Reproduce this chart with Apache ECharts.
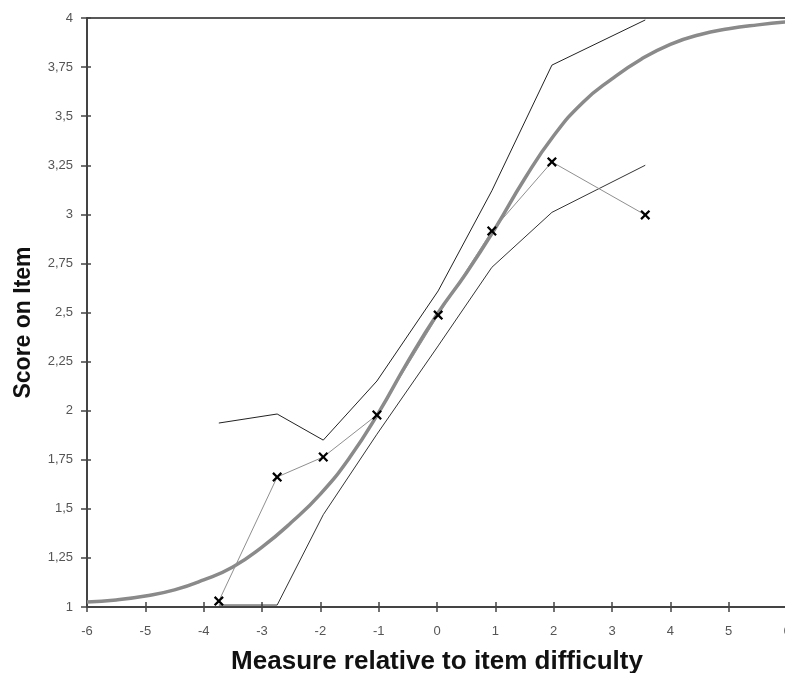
<!DOCTYPE html>
<html>
<head>
<meta charset="utf-8">
<script src="https://cdn.jsdelivr.net/npm/echarts@6/dist/echarts.min.js"></script>
<style>
html,body{margin:0;padding:0;background:#fff;overflow:hidden;}
#c{width:785px;height:673px;}
</style>
</head>
<body>
<div id="c"></div>
<script>
// Model (expected score) curve
const curveX = [-6,-5.5,-5,-4.5,-4,-3.5,-3,-2.5,-2,-1.5,-1,-0.5,0,0.5,1,1.5,2,2.5,3,3.5,4,4.5,5,5.5,6];
const curveY = [1.025,1.036,1.056,1.087,1.138,1.204,1.305,1.43,1.575,1.76,1.99,2.25,2.49,2.70,2.93,3.18,3.40,3.57,3.69,3.79,3.866,3.915,3.945,3.965,3.98];
// Observed mean scores at measure groups
const obsX = [-3.74,-2.74,-1.95,-1.03,0.02,0.94,1.97,3.57];
const obsY = [1.03,1.662,1.764,1.978,2.487,2.915,3.267,2.997];
// Confidence band
const upperY = [1.937,1.983,1.85,2.151,2.61,3.12,3.76,3.99];
const lowerY = [1.01,1.01,1.47,1.88,2.33,2.73,3.01,3.25];
const xTicks = {min:-6,max:6,interval:1};
const yTicks = {min:1,max:4,interval:0.25};

const pairs = (xs, ys) => xs.map((x,i)=>[x, ys[i]]);
const cross = 'path://M0,1.6 L1.6,0 L5,3.4 L8.4,0 L10,1.6 L6.6,5 L10,8.4 L8.4,10 L5,6.6 L1.6,10 L0,8.4 L3.4,5 Z';
const fmt = v => String(v).replace('.', ',');
const labelFont = {fontFamily:'Liberation Sans, Arial, sans-serif', fontSize:13, color:'#555'};

const chart = echarts.init(document.getElementById('c'), null, {renderer:'canvas'});
chart.setOption({
  animation:false,
  backgroundColor:'#fff',
  grid:{left:87, top:18, right:-2, bottom:66, containLabel:false, outerBoundsMode:'none'},
  xAxis:[
    {type:'value', position:'bottom', min:xTicks.min, max:xTicks.max, interval:xTicks.interval,
     axisLine:{show:true, onZero:false, lineStyle:{color:'#444', width:2}},
     axisTick:{show:true, length:5, lineStyle:{color:'#444', width:1.5}},
     axisLabel:Object.assign({margin:18, formatter:fmt}, labelFont),
     splitLine:{show:false},
     name:'Measure relative to item difficulty', nameLocation:'middle', nameGap:42,
     nameTextStyle:{fontFamily:'Liberation Sans, Arial, sans-serif', fontSize:26, fontWeight:'bold', color:'#111'}},
    {type:'value', position:'bottom', min:xTicks.min, max:xTicks.max, interval:xTicks.interval,
     axisLine:{show:false, onZero:false}, axisTick:{show:true, inside:true, length:5, lineStyle:{color:'#444', width:1.5}},
     axisLabel:{show:false}, splitLine:{show:false}},
    {type:'value', position:'top', min:xTicks.min, max:xTicks.max,
     axisLine:{show:true, onZero:false, lineStyle:{color:'#222', width:1.5}}, axisTick:{show:false},
     axisLabel:{show:false}, splitLine:{show:false}}
  ],
  yAxis:[
    {type:'value', position:'left', min:yTicks.min, max:yTicks.max, interval:yTicks.interval,
     axisLine:{show:true, onZero:false, lineStyle:{color:'#444', width:2}},
     axisTick:{show:true, length:6, lineStyle:{color:'#444', width:1.5}},
     axisLabel:Object.assign({margin:14, formatter:fmt}, labelFont),
     splitLine:{show:false},
     name:'Score on Item', nameLocation:'middle', nameGap:52, nameRotate:90,
     nameTextStyle:{fontFamily:'Liberation Sans, Arial, sans-serif', fontSize:23, fontWeight:'bold', color:'#111', padding:[0,20,0,0]}},
    {type:'value', position:'left', min:yTicks.min, max:yTicks.max, interval:yTicks.interval,
     axisLine:{show:false, onZero:false}, axisTick:{show:true, inside:true, length:4, lineStyle:{color:'#444', width:1.5}},
     axisLabel:{show:false}, splitLine:{show:false}}
  ],
  series:[
    {type:'line', name:'model', data:pairs(curveX, curveY), smooth:true, showSymbol:false,
     lineStyle:{color:'#8a8a8a', width:3.5}, z:2},
    {type:'line', name:'upper', data:pairs(obsX, upperY), showSymbol:false,
     lineStyle:{color:'#222', width:1}, z:3},
    {type:'line', name:'lower', data:pairs(obsX, lowerY), showSymbol:false,
     lineStyle:{color:'#333', width:1}, z:3},
    {type:'line', name:'observed', data:pairs(obsX, obsY), showSymbol:true, symbol:cross, symbolSize:10,
     itemStyle:{color:'#000'}, lineStyle:{color:'#8f8f8f', width:1}, z:4}
  ]
});
</script>
</body>
</html>
